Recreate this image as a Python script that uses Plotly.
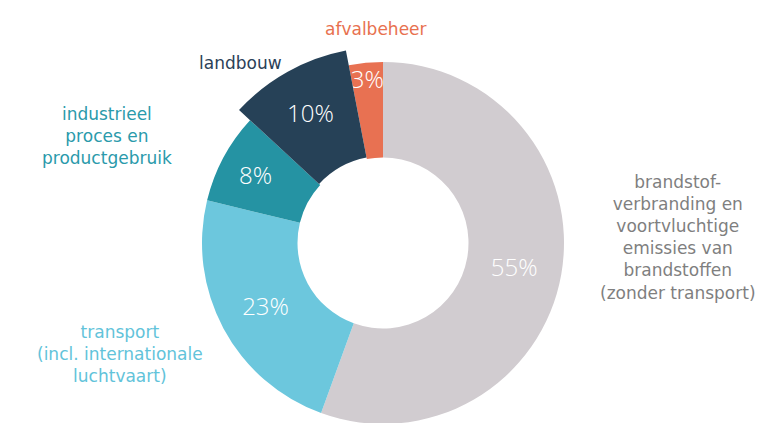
import plotly.graph_objects as go

# ---- data ----
categories = ["brandstofverbranding", "transport", "industrieel proces", "landbouw", "afvalbeheer"]
values = [55, 23, 8, 10, 3]
pct_labels = ["55%", "23%", "8%", "10%", "3%"]
colors = ["#D1CCD0", "#6CC7DD", "#2593A3", "#264157", "#E87152"]
label_colors = ["#7F7F7F", "#62C3DA", "#2A9AAB", "#2B4158", "#E8714F"]
label_texts = [
    "brandstof-<br>verbranding en<br>voortvluchtige<br>emissies van<br>brandstoffen<br>(zonder transport)",
    "transport<br>(incl. internationale<br>luchtvaart)",
    "industrieel<br>proces en<br>productgebruik",
    "landbouw",
    "afvalbeheer",
]
highlighted = "landbouw"

# ---- layout constants (pixel positions are page positions; page has 8px body margin) ----
OFF = 8
W, H = 776, 440
FONT_PCT = "Open Sans"
FONT_LBL = "DejaVu Sans"
cx, cy = 383 - OFF, 243 - OFF   # pie centre in figure px
R_MAIN, HOLE_MAIN = 181, 85.5
R_HI, HOLE_HI = 196, 87

def dom(r):
    return dict(x=[(cx - r) / W, (cx + r) / W],
                y=[(H - cy - r) / H, (H - cy + r) / H])

idx = categories.index(highlighted)
transparent = "rgba(0,0,0,0)"

main_colors = [c if i != idx else transparent for i, c in enumerate(colors)]
main_text = [t if i != idx else "" for i, t in enumerate(pct_labels)]
hi_colors = [c if i == idx else transparent for i, c in enumerate(colors)]
hi_text = [t if i == idx else "" for i, t in enumerate(pct_labels)]

common = dict(labels=categories, values=values, sort=False, direction="clockwise",
              rotation=0, textinfo="text", textposition="inside",
              insidetextorientation="horizontal", showlegend=False,
              textfont=dict(family=FONT_PCT, size=24, color="white", weight=300),
              hoverinfo="label+percent")

fig = go.Figure()
fig.add_trace(go.Pie(text=main_text, marker=dict(colors=main_colors, line=dict(width=0)),
                     hole=HOLE_MAIN / R_MAIN, domain=dom(R_MAIN), **common))
fig.add_trace(go.Pie(text=hi_text, marker=dict(colors=hi_colors, line=dict(width=0)),
                     hole=HOLE_HI / R_HI, domain=dom(R_HI), **common))

# outside labels: centre of text block in page px
label_pos = [(678, 237), (120, 354), (107, 136), (240, 63), (376, 29)]
annotations = []
for txt, (lx, ly), col in zip(label_texts, label_pos, label_colors):
    annotations.append(dict(text=txt, x=(lx - OFF) / W, y=1 - (ly - OFF) / H,
                            xref="paper", yref="paper", xanchor="center", yanchor="middle",
                            align="center", showarrow=False,
                            font=dict(family=FONT_LBL, size=17, color=col)))

fig.update_layout(width=W, height=H, margin=dict(l=0, r=0, t=0, b=0),
                  paper_bgcolor="white", plot_bgcolor="white",
                  uniformtext=dict(minsize=24, mode="show"),
                  annotations=annotations)
fig.write_html("out.html")
